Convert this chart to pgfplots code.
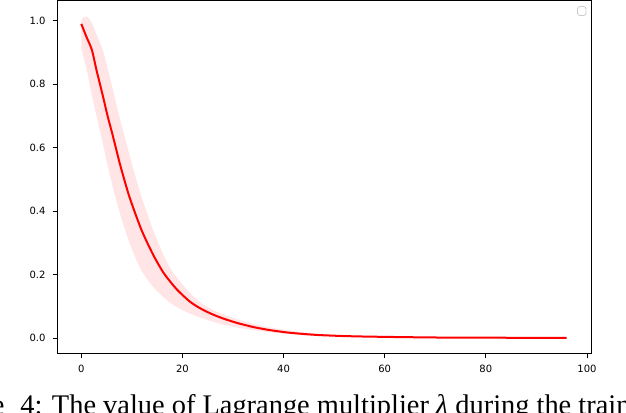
\documentclass[border=0pt]{standalone}
\usepackage{pgfplots}
\pgfplotsset{compat=1.18}
\usepgfplotslibrary{fillbetween}
\usepackage{fontspec}
\setmainfont{DejaVu Sans}
\newfontfamily\capfont{Liberation Serif}

\begin{document}
\begin{tikzpicture}
\begin{axis}[
  at={(28.5pt,29pt)}, anchor=south west,
  scale only axis, width=267pt, height=176.5pt,
  xmin=-4.8, xmax=100.8, ymin=-0.05, ymax=1.062,
  xtick={0,20,40,60,80,100},
  ytick={0,0.2,0.4,0.6,0.8,1.0},
  yticklabel style={/pgf/number format/.cd, fixed, fixed zerofill, precision=1},
  xticklabel style={/pgf/number format/.cd, fixed, precision=0},
  ticklabel style={font=\fontsize{5}{6}\selectfont},
  /pgf/number format/assume math mode=true,
  tick align=outside, xtick pos=left, ytick pos=left,
  major tick length=2.2pt,
  axis line style={line width=0.5pt},
  tick style={line width=0.45pt, black},
]
% band: upper and lower edges
\addplot[draw=none, smooth, tension=0.4, name path=U, forget plot] coordinates {
(0,1.003) (0.5,1.011) (1.0,1.013) (1.5,1.008) (2.2,0.99) (3.2,0.95)
(4.3,0.905) (5.3,0.845) (6.5,0.765) (7.5,0.70) (8.5,0.64) (9.9,0.555)
(11.8,0.45) (14.1,0.345) (16.2,0.264) (18,0.21) (20.8,0.154)
(23.4,0.114) (25.6,0.092) (28,0.075) (30.5,0.061) (33.5,0.047)
(36.5,0.036) (39.5,0.028) (43,0.02) (46.5,0.014) (50,0.01)
(54.5,0.007) (58.5,0.005) (64.5,0.0035) (72,0.002) (80,0.0015)
(90,0.001) (96,0.001)
};
\addplot[draw=none, smooth, tension=0.4, name path=L, forget plot] coordinates {
(0,0.915) (0.3,0.895) (0.7,0.87) (1.1,0.845) (2.1,0.765) (3.0,0.70)
(3.9,0.64) (5.1,0.551) (6.7,0.446) (8.5,0.348) (10.2,0.272) (11.8,0.216)
(13.5,0.175) (15.3,0.143) (17.6,0.111) (19.8,0.090) (22,0.074)
(24.4,0.060) (28,0.043) (31,0.033) (34,0.025) (37.6,0.018) (41,0.013)
(44.2,0.009) (49,0.0062) (53,0.0048) (59,0.0034) (67,0.002) (75,0.0015)
(85,0.001) (96,0.0006)
};
\addplot[fill=red!10, draw=none, forget plot] fill between[of=U and L];
% mean
\addplot[red, line width=1pt, no markers, smooth, tension=0.4] coordinates {
(0,0.990) (1,0.950) (2.1,0.908) (3,0.845) (4.3,0.761) (5.2,0.70)
(6.2,0.640) (7.6,0.551) (9.5,0.446) (11.9,0.341) (14.2,0.263)
(16.3,0.205) (18.8,0.155) (21.4,0.116) (23.5,0.094) (25.8,0.076)
(28.2,0.061) (31,0.047) (34,0.035) (37,0.026) (40.6,0.018) (44,0.013)
(47.2,0.0095) (52,0.0065) (56,0.005) (62,0.0035) (70,0.002) (78,0.0015)
(88,0.001) (96,0.0008)
};
\end{axis}
\begin{scope}[x=0.5pt,y=0.5pt]
% empty legend box
\draw[black!20, line width=0.4pt, rounded corners=1.2pt, fill=white] (577.5,396.5) rectangle (586,405.5);
% caption (cut off by the page edge)
\node[anchor=base east, inner sep=0pt, font=\capfont\fontsize{14.2}{17}\selectfont]
  at (5,-3) {Figure};
\node[anchor=base west, inner sep=0pt, font=\capfont\fontsize{14.2}{17}\selectfont]
  at (20,-3) {4: The value of Lagrange multiplier \textit{λ} during the training process.};
\end{scope}
\pgfresetboundingbox
\path[use as bounding box] (0,0) rectangle (313pt,206pt);
\end{tikzpicture}
\end{document}
